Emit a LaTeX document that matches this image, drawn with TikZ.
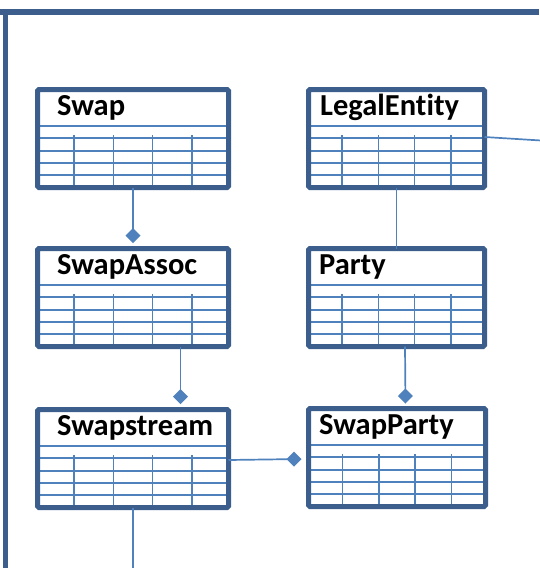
\documentclass[tikz,border=0pt]{standalone}
\usepackage{fontspec}
\setmainfont[RawFeature={-liga}]{Carlito}
\usetikzlibrary{arrows.meta}
\definecolor{frameblue}{HTML}{3B5E8C}
\definecolor{lineblue}{HTML}{4F81BD}
\tikzset{
  boxframe/.style={draw=frameblue, line width=5pt, rounded corners=1.5pt, inner sep=0pt, outer sep=0pt, anchor=north west},
  gridline/.style={draw=lineblue, line width=1.7pt},
  titletext/.style={anchor=base west, inner sep=0pt, font=\fontsize{30.5}{31}\selectfont\bfseries},
  conn/.style={draw=lineblue, line width=1.7pt},
  diam/.style={conn, -{Diamond[length=15pt, width=15pt, fill=lineblue]}},
  frameline/.style={draw=frameblue, line width=5.5pt}
}
% #1 name, #2 x0, #3 y0 (pixels, down), #4 width, #5 title x offset, #6 title
\newcommand\tablebox[6]{%
  \foreach \dy in {39,51,64,76,88}
    \draw[gridline] (#2+1.5,-#3-\dy) -- (#2+#4-1.5,-#3-\dy);
  \foreach \k in {1,2,3,4}
    \draw[gridline] (#2+\k*#4/5,-#3-48) -- (#2+\k*#4/5,-#3-100);
  \node[boxframe, minimum width=#4pt-5pt, minimum height=98pt] (#1) at (#2+2.5,-#3-2.5) {};
  \node[titletext] (#1-t) at (#2+#5,-#3-28) {#6};
}
\begin{document}
\begin{tikzpicture}[x=1pt,y=1pt]
\useasboundingbox (0,0) rectangle (539,-568);
% frame
\draw[frameline] (0,-12) -- (539,-12);
\draw[frameline] (5.5,-9.5) -- (5.5,-568);
% boxes
\tablebox{swap}{35}{87}{196}{22}{Swap}
\tablebox{le}{306}{87}{181}{14}{LegalEntity}
\tablebox{sa}{35}{246}{196}{22}{SwapAssoc}
\tablebox{party}{306}{246}{181}{13}{Party}
\tablebox{ss}{35}{407}{196}{22}{Swapstream}
\tablebox{sp}{306}{406}{182}{13}{SwapParty}
% connector ends
\coordinate (leout) at (541,-140.5);
\coordinate (ssout) at (133,-570);
% connectors
\draw[diam] (swap.south) -- ([yshift=5.5pt]sa.north);
\draw[conn] (le.south) -- (party.north);
\draw[conn] ([yshift=1.5pt]le.east) -- (leout);
\draw[diam] ([xshift=-48pt]sa.south east) -- ([xshift=-48pt,yshift=5.5pt]ss.north east);
\draw[diam] ([xshift=8.5pt]party.south) -- ([xshift=8.5pt,yshift=5pt]sp.north);
\draw[diam] ([yshift=-1.5pt]ss.east) -- ([xshift=-7pt,yshift=-1.5pt]sp.west);
\draw[conn] (ss.south) -- (ssout);
\end{tikzpicture}
\end{document}
